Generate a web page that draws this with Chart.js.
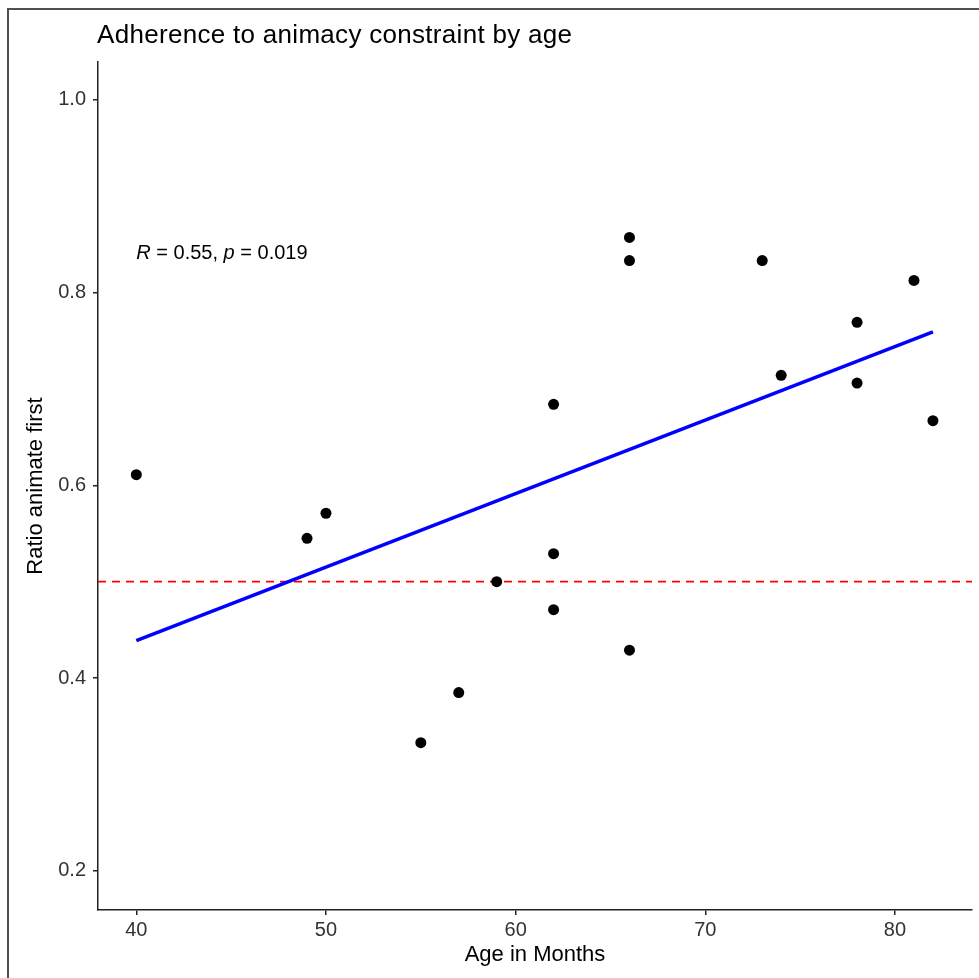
<!DOCTYPE html>
<html>
<head>
<meta charset="utf-8">
<script src="https://cdn.jsdelivr.net/npm/chart.js@4.4.1/dist/chart.umd.min.js"></script>
<style>
  html, body { margin: 0; padding: 0; background: #fff; }
  #wrap { width: 979px; height: 978px; position: relative; }
</style>
</head>
<body>
<div id="wrap"><canvas id="c" width="979" height="978"></canvas></div>
<script>
// ---- data ----
const ages   = [40, 49, 50, 55, 57, 59, 62, 62, 62, 66, 66, 66, 73, 74, 78, 78, 81, 82];
const ratios = [0.611, 0.545, 0.571, 0.333, 0.385, 0.500, 0.684, 0.529, 0.471, 0.857, 0.833, 0.429, 0.833, 0.714, 0.769, 0.706, 0.8125, 0.667];
const fitX = [40, 82];
const fitY = [0.439, 0.759];
const refY = 0.5;
const xTicks = [40, 50, 60, 70, 80];
const yTicks = [0.2, 0.4, 0.6, 0.8, 1.0];
const xRange = [37.98, 84.06];
const yRange = [0.1595, 1.039];
const titleText = 'Adherence to animacy constraint by age';
const xTitle = 'Age in Months';
const yTitle = 'Ratio animate first';
const statR = '0.55';
const statP = '0.019';
const statPos = [40, 0.84];

const FONT = '"Liberation Sans", Arial, sans-serif';

const framePlugin = {
  id: 'frame',
  beforeDraw(chart) {
    const ctx = chart.ctx;
    ctx.save();
    ctx.fillStyle = '#fff';
    ctx.fillRect(0, 0, chart.width, chart.height);
    ctx.fillStyle = '#505050';
    ctx.fillRect(7, 8, 2, chart.height - 8);
    ctx.fillRect(7, 8, chart.width - 7, 2);
    ctx.restore();
  },
  afterDraw(chart) {
    const ctx = chart.ctx;
    ctx.save();
    ctx.fillStyle = '#000';
    ctx.font = '26px ' + FONT;
    ctx.textBaseline = 'alphabetic';
    ctx.textAlign = 'left';
    try { ctx.letterSpacing = '0.3px'; } catch (e) {}
    ctx.fillText(titleText, 97, 43);
    try { ctx.letterSpacing = '0px'; } catch (e) {}
    // stat annotation
    const xs = chart.scales.x, ys = chart.scales.y;
    let px = xs.getPixelForValue(statPos[0]);
    const py = ys.getPixelForValue(statPos[1]);
    ctx.fillStyle = '#000';
    ctx.textBaseline = 'middle';
    const parts = [
      ['italic', 'R'], ['normal', ' = ' + statR + ', '], ['italic', 'p'], ['normal', ' = ' + statP]
    ];
    for (const [st, t] of parts) {
      ctx.font = st + ' 20px ' + FONT;
      ctx.fillText(t, px, py);
      px += ctx.measureText(t).width;
    }
    ctx.restore();
  }
};

const ctx = document.getElementById('c').getContext('2d');
new Chart(ctx, {
  data: {
    datasets: [
      {
        type: 'scatter',
        data: ages.map((a, i) => ({ x: a, y: ratios[i] })),
        pointRadius: 5.5,
        pointHoverRadius: 5.5,
        pointBackgroundColor: '#000',
        pointBorderColor: '#000',
        pointBorderWidth: 0,
        order: 0
      },
      {
        type: 'line',
        data: fitX.map((x, i) => ({ x: x, y: fitY[i] })),
        borderColor: '#0000FF',
        borderWidth: 3.5,
        pointRadius: 0,
        fill: false,
        order: 1
      },
      {
        type: 'line',
        data: xRange.map(x => ({ x: x, y: refY })),
        borderColor: '#FF0000',
        borderWidth: 1.8,
        borderDash: [8, 6],
        pointRadius: 0,
        fill: false,
        order: 2
      }
    ]
  },
  options: {
    responsive: false,
    animation: false,
    devicePixelRatio: 1,
    layout: { padding: { top: 62, right: 7, left: 0, bottom: 0 } },
    plugins: {
      legend: { display: false },
      tooltip: { enabled: false },
      title: { display: false }
    },
    scales: {
      x: {
        type: 'linear',
        position: 'bottom',
        min: xRange[0],
        max: xRange[1],
        afterBuildTicks: s => { s.ticks = xTicks.map(v => ({ value: v })); },
        afterFit: s => { s.height = 68; },
        grid: { drawOnChartArea: false, drawTicks: true, tickLength: 5, color: '#222', lineWidth: 1.5 },
        border: { display: true, color: '#222', width: 1.5 },
        ticks: {
          color: '#333', font: { family: FONT, size: 20 }, padding: 3,
          callback: v => String(v), maxRotation: 0
        },
        title: {
          display: true, text: xTitle, color: '#000',
          font: { family: FONT, size: 22 }, padding: { top: 0, bottom: 10 }
        }
      },
      y: {
        type: 'linear',
        position: 'left',
        min: yRange[0],
        max: yRange[1],
        afterBuildTicks: s => { s.ticks = yTicks.map(v => ({ value: v })); },
        afterFit: s => { s.width = 98; },
        grid: { drawOnChartArea: false, drawTicks: true, tickLength: 5, color: '#222', lineWidth: 1.5 },
        border: { display: true, color: '#222', width: 1.5 },
        ticks: {
          color: '#333', font: { family: FONT, size: 20 }, padding: 7,
          callback: v => Number(v).toFixed(1)
        },
        title: {
          display: true, text: yTitle, color: '#000',
          font: { family: FONT, size: 22 }, padding: { top: 23, bottom: 0 }
        }
      }
    }
  },
  plugins: [framePlugin]
});
</script>
</body>
</html>
